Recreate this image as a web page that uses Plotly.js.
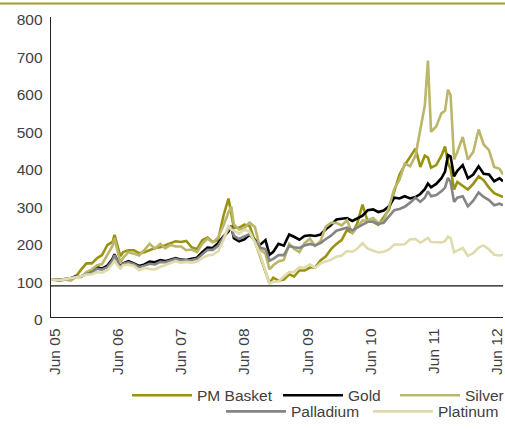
<!DOCTYPE html>
<html>
<head>
<meta charset="utf-8">
<script src="https://cdn.plot.ly/plotly-3.0.1.min.js"></script>
<style>html,body{margin:0;padding:0;background:#fff;}#chart{width:505px;height:429px;}</style>
</head>
<body>
<div id="chart"></div>
<script>
var dates = ['2005-05-10','2005-07-01','2005-08-01','2005-09-01','2005-10-01','2005-11-01','2005-12-01',
'2006-01-01','2006-02-01','2006-03-01','2006-04-01','2006-05-01','2006-05-12','2006-06-01','2006-06-15','2006-07-01','2006-08-01','2006-09-01','2006-10-01','2006-11-01','2006-12-01',
'2007-01-01','2007-02-01','2007-03-01','2007-04-01','2007-05-01','2007-06-01','2007-07-01','2007-08-01','2007-09-01','2007-10-01','2007-11-01','2007-12-01',
'2008-01-01','2008-02-01','2008-03-01','2008-03-17','2008-04-01','2008-05-01','2008-06-01','2008-07-01','2008-08-01','2008-09-01','2008-10-01','2008-10-24','2008-11-15','2008-12-15',
'2009-01-15','2009-02-15','2009-03-15','2009-04-15','2009-05-15','2009-06-15','2009-07-15','2009-08-15','2009-09-15','2009-10-15','2009-11-15','2009-12-15',
'2010-01-15','2010-02-15','2010-03-15','2010-04-15','2010-05-15','2010-06-15','2010-07-15','2010-08-15','2010-09-15','2010-10-15','2010-11-15','2010-12-15',
'2011-01-15','2011-02-15','2011-03-15','2011-04-10','2011-04-28','2011-05-16','2011-06-15','2011-07-15','2011-08-05','2011-08-22','2011-09-06','2011-09-26','2011-10-15','2011-11-15','2011-12-15',
'2012-01-15','2012-02-15','2012-03-15','2012-04-15','2012-05-15','2012-06-15','2012-07-05'];

var pmBasket = [100,97,100,105,108,127,143,
143,157,165,192,200,219,186,162,173,178,178,170,173,178,
184,186,192,197,202,200,203,186,181,205,212,200,
205,270,316,272,238,238,246,243,203,162,119,90,105,97,
100,114,108,124,124,132,132,151,162,181,195,205,
232,224,249,300,254,254,246,265,286,335,380,405,
427,449,400,430,425,398,405,430,455,410,395,340,360,350,340,
355,375,365,345,330,325,320];

var gold = [100,99,101,103,109,108,116,
121,133,129,137,155,167,149,133,143,149,143,136,140,148,
146,152,149,154,157,153,152,155,158,173,185,184,
197,215,228,243,210,202,207,219,205,193,205,166,174,195,
190,220,214,206,216,218,216,220,234,245,260,262,
264,256,262,270,285,287,280,284,295,318,316,322,
316,320,328,341,356,346,355,370,388,432,428,375,390,405,370,
380,402,382,380,362,370,362];

var silver = [100,99,100,97,106,107,120,
127,138,141,166,190,210,176,145,158,173,169,164,179,195,
182,195,183,192,188,188,178,180,173,195,209,199,
212,244,279,295,247,233,237,252,240,180,169,127,138,148,
152,195,182,173,197,209,190,202,241,251,251,244,
258,223,240,257,258,264,251,257,293,341,367,409,
402,430,500,564,684,494,508,543,550,606,592,420,440,480,420,
440,500,460,445,400,395,380];

var palladium = [100,99,101,103,108,108,115,
119,129,126,133,151,165,145,132,142,146,141,133,137,142,
140,147,146,151,155,151,151,152,155,168,179,179,
190,212,233,240,216,208,215,221,203,185,181,150,155,165,
165,190,186,184,191,195,191,197,208,217,230,233,
238,231,238,248,254,254,248,251,268,285,288,294,
305,318,307,318,335,322,325,335,345,371,360,307,318,322,295,
310,332,320,312,298,302,298];

var platinum = [100,98,101,103,106,109,113,
114,120,118,125,142,150,136,130,138,140,136,125,131,128,
127,134,138,143,149,145,147,145,148,157,164,166,
175,205,244,233,231,222,233,227,199,165,125,89,94,95,
108,120,120,133,131,140,131,143,148,153,161,164,
176,174,182,197,182,176,172,174,180,193,193,194,
207,208,198,205,211,200,200,199,202,214,211,173,177,184,163,
170,185,191,180,166,164,166];

var tickDates = ['2005-06-01','2006-06-01','2007-06-01','2008-06-01','2009-06-01','2010-06-01','2011-06-01','2012-06-01'];
var tickText = ['Jun 05','Jun 06','Jun 07','Jun 08','Jun 09','Jun 10','Jun 11','Jun 12'];
var yTicks = [0,100,200,300,400,500,600,700,800];
var baseLevel = 83;

var seriesNames = ['PM Basket','Gold','Silver','Palladium','Platinum'];
var seriesData = [pmBasket, gold, silver, palladium, platinum];
var seriesColors = ['#999310','#000000','#bbb66a','#858585','#dfdbac'];
var legendIds = ['legend','legend2','legend3','legend4','legend5'];

var traces = seriesNames.map(function(n, i){
  return {x: dates, y: seriesData[i], name: n, type: 'scatter', mode: 'lines',
    line: {color: seriesColors[i], width: 2.6}, legend: legendIds[i]};
});

var font = {family: 'Liberation Sans, Arial, sans-serif', size: 15.5, color: '#404040'};
function leg(px, row){
  return {x: (px - 51)/452, y: row === 1 ? -0.262 : -0.316, xanchor: 'left', yanchor: 'middle',
    orientation: 'h', font: font, bgcolor: 'rgba(0,0,0,0)', itemwidth: 60, borderwidth: 0};
}

var layout = {
  width: 505, height: 429,
  margin: {l: 51, r: 2, t: 17, b: 112, autoexpand: false},
  paper_bgcolor: '#fff', plot_bgcolor: '#fff',
  font: font,
  showlegend: true,
  xaxis: {type: 'date', range: ['2005-05-10','2012-07-05'], tickvals: tickDates, ticktext: tickText,
    tickangle: -90, showgrid: false, zeroline: false, showline: true, linecolor: '#222', linewidth: 1.3,
    ticks: '', tickfont: font, ticklabelstandoff: 4, ticklabeloverflow: 'allow', fixedrange: true, automargin: false},
  yaxis: {range: [0, 800], tickvals: yTicks, showgrid: false, zeroline: false, showline: true,
    linecolor: '#222', linewidth: 1.3, ticks: '', tickfont: font, ticklabelshift: 3, ticklabelstandoff: 4,
    ticklabeloverflow: 'allow', automargin: false},
  legend: leg(127, 1), legend2: leg(278, 1), legend3: leg(395, 1), legend4: leg(221, 2), legend5: leg(368, 2),
  shapes: [
    {type: 'line', xref: 'paper', yref: 'y', x0: 0, x1: 1, y0: baseLevel, y1: baseLevel, line: {color: '#111', width: 1.3}},
    {type: 'line', xref: 'paper', yref: 'paper', x0: -0.12, x1: 1.01, y0: 1.045, y1: 1.045, line: {color: '#a39c2c', width: 2}}
  ]
};

Plotly.newPlot('chart', traces, layout, {displayModeBar: false, staticPlot: true});
</script>
</body>
</html>
